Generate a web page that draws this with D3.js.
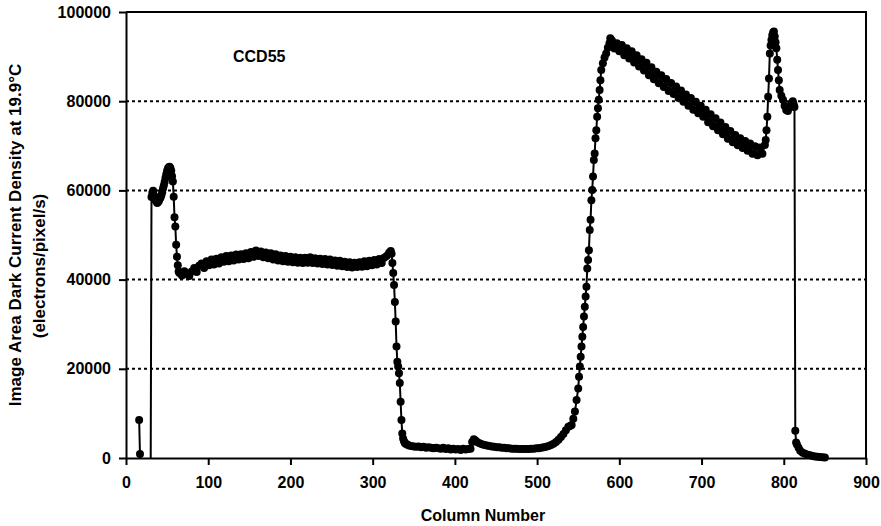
<!DOCTYPE html>
<meta charset="utf-8">
<style>
    body { margin: 0; background: #fff; }
    text { font-family: "Liberation Sans", Arial, sans-serif; font-weight: bold; fill: #000; }
    .grid line { stroke: #000; stroke-width: 2px; stroke-dasharray: 3,3; }
    .axis path, .axis line { stroke: #000; stroke-width: 2px; }
    .axis text { font-size: 16px; }
    .border { stroke: #000; stroke-width: 2px; fill: none; }
    .dataLine { fill: none; stroke: #000; stroke-width: 2px; }
</style>
<body>
<script src="https://cdnjs.cloudflare.com/ajax/libs/d3/7.8.5/d3.min.js"></script>
<script>

// tick values
var xTicks = [0, 100, 200, 300, 400, 500, 600, 700, 800, 900];
var yTicks = [0, 20000, 40000, 60000, 80000, 100000];
var gridValues = [20000, 40000, 60000, 80000];

// [column, dark current] readings, CCD55
var leftEdge = [[16, 8500], [17, 900], [20, -3000], [25, -3000], [30, -3000]];

var firstHump = [
    [31, 58500], [32, 59500], [33, 59900], [34, 58900], [35, 58300], [36, 57800], [37, 57500],
    [38, 57200], [39, 57400], [40, 57600], [41, 58100], [42, 58400], [43, 58900], [44, 59600],
    [45, 60400], [46, 61100], [47, 61900], [48, 62800], [49, 63600], [50, 64400], [51, 64900],
    [52, 65200], [53, 65300], [54, 65000], [55, 64400], [56, 63200], [57, 62000], [58, 58600],
    [59, 54000], [60, 51900], [61, 47800], [62, 45100], [63, 43200], [64, 41800]
];

var plateau = [
    [65, 41500], [68, 40900], [71, 41900], [74, 41200], [77, 40800], [80, 41800], [83, 42600],
    [86, 41700], [89, 43100], [92, 43600], [95, 42600], [98, 44100], [101, 43200], [104, 44500],
    [107, 43400], [110, 44700], [113, 43600], [116, 45000], [119, 44000], [122, 45300], [125, 44100],
    [128, 45400], [131, 44300], [134, 45600], [137, 44500], [140, 45700], [143, 44600], [146, 45900],
    [149, 44800], [152, 46200], [155, 45100], [158, 46500], [161, 45300], [164, 46300], [167, 45000],
    [170, 46100], [173, 44800], [176, 45900], [179, 44500], [182, 45700], [185, 44300], [188, 45400],
    [191, 44100], [194, 45300], [197, 44000], [200, 45100], [203, 43900], [206, 45000], [209, 43800],
    [212, 44900], [215, 43700], [218, 44900], [221, 43800], [224, 45000], [227, 43700], [230, 44800],
    [233, 43600], [236, 44700], [239, 43500], [242, 44600], [245, 43400], [248, 44500], [251, 43300],
    [254, 44300], [257, 43100], [260, 44200], [263, 43000], [266, 44000], [269, 42800], [272, 43900],
    [275, 42700], [278, 43800], [281, 42800], [284, 43900], [287, 42900], [290, 44100], [293, 43000],
    [296, 44200], [299, 43200], [302, 44400], [305, 43400], [308, 44600], [311, 43700], [314, 44900],
    [317, 45300], [320, 46000], [322, 46400], [323, 45800]
];

var firstDrop = [
    [324, 43700], [325, 41500], [326, 38800], [327, 35000], [328, 30600], [329, 25000], [330, 21600],
    [331, 20500], [332, 19000], [333, 16800], [334, 12600], [335, 8500], [336, 5500], [337, 4400],
    [338, 3800], [339, 3400], [340, 3200], [342, 3000], [344, 2800]
];

var trough = [
    [347, 2700], [350, 2600], [353, 2500], [356, 2600], [359, 2400], [362, 2500], [365, 2300],
    [368, 2400], [371, 2300], [374, 2200], [377, 2300], [380, 2200], [383, 2100], [386, 2300],
    [389, 2000], [392, 2200], [395, 1900], [398, 2100], [401, 1900], [404, 2000], [407, 1800],
    [410, 2100], [413, 1900], [416, 2000], [419, 2100], [421, 3600], [423, 4200], [425, 3900],
    [427, 3600], [430, 3300], [433, 3100], [436, 2900], [439, 2800], [442, 2700], [445, 2600],
    [448, 2500], [451, 2400], [454, 2400], [457, 2300], [460, 2300], [463, 2200], [466, 2200],
    [469, 2100], [472, 2100], [475, 2100], [478, 2000], [481, 2000], [484, 2000], [487, 2000],
    [490, 2000], [493, 2100], [496, 2100], [499, 2200], [502, 2200], [505, 2300], [508, 2400],
    [511, 2500], [514, 2700], [517, 2900], [520, 3200], [523, 3600], [526, 4100], [529, 4700],
    [532, 5400], [535, 6200], [538, 7000], [540, 7200]
];

var rise = [
    [542, 7400], [544, 8800], [546, 10400], [548, 13000], [550, 15600], [551, 18200], [552, 20500],
    [553, 22700], [554, 25000], [555, 27200], [556, 29400], [557, 31700], [558, 33900], [559, 36200],
    [560, 38400], [561, 42500], [562, 44400], [563, 46600], [564, 51100], [565, 53400], [566, 57800],
    [567, 60100], [568, 63100], [569, 66800], [570, 68300], [571, 71700], [572, 73500], [573, 76500],
    [574, 78400], [575, 80300], [576, 82500], [577, 84700], [578, 87000], [580, 88500], [582, 89800],
    [584, 90700], [586, 92000], [588, 93000], [589, 94100]
];

var decay = [
    [591, 93600], [594, 91800], [597, 93000], [600, 91200], [603, 92600], [606, 90300], [609, 91900],
    [612, 89600], [615, 91200], [618, 88700], [621, 90300], [624, 87800], [627, 89400], [630, 86900],
    [633, 88600], [636, 85800], [639, 87600], [642, 84900], [645, 86600], [648, 84000], [651, 85800],
    [654, 83200], [657, 85000], [660, 82300], [663, 84100], [666, 81600], [669, 83300], [672, 80700],
    [675, 82400], [678, 79900], [681, 81500], [684, 79000], [687, 80700], [690, 78100], [693, 79900],
    [696, 77300], [699, 79000], [702, 76500], [705, 78100], [708, 75300], [711, 77100], [714, 74400],
    [717, 76200], [720, 73500], [723, 75200], [726, 72600], [729, 74200], [732, 71600], [735, 73300],
    [738, 70800], [741, 72400], [744, 70100], [747, 71700], [750, 69500], [753, 71100], [756, 68900],
    [759, 70500], [762, 68200], [765, 69900], [768, 67900], [771, 69600], [774, 68200], [777, 70200]
];

var spike = [
    [778, 71300], [779, 73500], [780, 76500], [781, 81000], [782, 85100], [783, 90700], [784, 92500],
    [785, 93700], [786, 94800], [787, 95400], [788, 95600], [789, 94500], [790, 93200], [791, 91900],
    [792, 89300], [793, 87000], [794, 84700], [795, 82500], [797, 81200], [799, 80300], [801, 79000],
    [803, 78000], [805, 77800], [807, 78600], [809, 79400], [811, 80000], [812, 79300], [813, 78700]
];

var tail = [
    [814, 6100], [815, 3500], [816, 3000], [818, 2300], [820, 1600], [823, 1200], [826, 950],
    [829, 750], [832, 600], [835, 450], [838, 350], [841, 280], [844, 200], [847, 150], [850, 100]
];

var readings = [].concat(leftEdge, firstHump, plateau, firstDrop, trough, rise, decay, spike, tail);

// set the dimensions and margins of the graph
var margin = {top: 12, right: 15, bottom: 68, left: 126},
    width = 881 - margin.left - margin.right,
    height = 526 - margin.top - margin.bottom;

// set the ranges
var x = d3.scaleLinear().domain([0, 900]).range([0, width]);
var y = d3.scaleLinear().domain([0, 100000]).range([height, 0]);

var svg = d3.select("body")
    .append("svg")
    .attr("width", 881)
    .attr("height", 526)
  .append("g")
    .attr("transform", "translate(" + margin.left + "," + margin.top + ")");

// clipping: the line stays inside the plot, markers may overlap the axis a bit
var defs = svg.append("defs");
defs.append("clipPath").attr("id", "clipLine")
  .append("rect").attr("width", width).attr("height", height);
defs.append("clipPath").attr("id", "clipDots")
  .append("rect").attr("y", -6).attr("width", width).attr("height", height + 10);

// dotted gridlines
svg.append("g")
    .attr("class", "grid")
  .selectAll("line")
  .data(gridValues)
  .enter().append("line")
    .attr("x1", 0)
    .attr("x2", width)
    .attr("y1", function(d) { return y(d); })
    .attr("y2", function(d) { return y(d); });

// define the line
var valueLine = d3.line()
    .x(function(d) { return x(d[0]); })
    .y(function(d) { return y(d[1]); });

svg.append("path")
    .datum(readings)
    .attr("class", "dataLine")
    .attr("clip-path", "url(#clipLine)")
    .attr("d", valueLine);

svg.append("g")
    .attr("clip-path", "url(#clipDots)")
  .selectAll("circle")
  .data(readings)
  .enter().append("circle")
    .attr("cx", function(d) { return x(d[0]); })
    .attr("cy", function(d) { return y(d[1]); })
    .attr("r", 4)
    .attr("fill", "#000");

// plot border top and right
svg.append("path")
    .attr("class", "border")
    .attr("d", "M0,0H" + width + "V" + height);

// Add the X Axis
svg.append("g")
    .attr("class", "axis")
    .attr("transform", "translate(0," + height + ")")
    .call(d3.axisBottom(x).tickValues(xTicks).tickSize(7).tickSizeOuter(0).tickPadding(12));

// Add the Y Axis
svg.append("g")
    .attr("class", "axis")
    .call(d3.axisLeft(y).tickValues(yTicks).tickSize(7).tickSizeOuter(0).tickPadding(8).tickFormat(d3.format("d")));

// axis titles
svg.append("text")
    .attr("x", 357)
    .attr("y", 509)
    .attr("text-anchor", "middle")
    .style("font-size", "16px")
    .text("Column Number");

svg.append("text")
    .attr("transform", "translate(" + (-105) + "," + 223 + ") rotate(-90)")
    .attr("text-anchor", "middle")
    .style("font-size", "17px")
    .text("Image Area Dark Current Density at 19.9°C");

svg.append("text")
    .attr("transform", "translate(" + (-81) + "," + 254 + ") rotate(-90)")
    .attr("text-anchor", "middle")
    .style("font-size", "17px")
    .text("(electrons/pixel/s)");

// series label
svg.append("text")
    .attr("x", 107)
    .attr("y", 50)
    .style("font-size", "16px")
    .text("CCD55");

</script>
</body>
